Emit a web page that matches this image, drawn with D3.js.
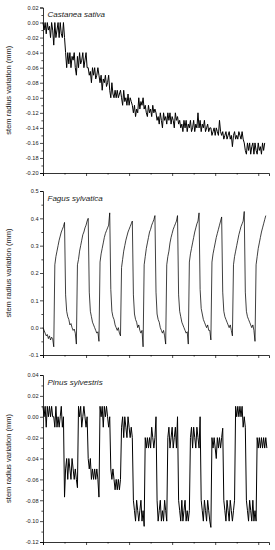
<!DOCTYPE html>
<html>
<head>
<meta charset="utf-8">
<script src="https://cdn.jsdelivr.net/npm/d3@7"></script>
<style>
  body { margin: 0; background: #fff; }
  svg { display: block; }
  text { font-family: "Liberation Sans", Arial, sans-serif; fill: #222; }
</style>
</head>
<body>
<script>
var width = 275;
var height = 550;

// sampling interval of the dendrometer records (x axis units)
var dt = 0.05;

// stem radius variation (mm), one value per sample
var castaneaValues = [
  0, -0.01, 0, -0.015, 0, -0.01, -0.005, -0.02, 0, -0.01,
  -0.03,
  0, -0.02, -0.01, 0, -0.02, 0, -0.015, -0.02, 0, -0.02,
  -0.04,
  -0.06, -0.04, -0.055, -0.04, -0.06, -0.045, -0.05, -0.04, -0.06, -0.07,
  -0.045, -0.06, -0.04, -0.055, -0.05, -0.04, -0.06, -0.05, -0.04, -0.06,
  -0.06, -0.07, -0.065, -0.08, -0.06, -0.07, -0.06, -0.075, -0.07, -0.06, -0.07,
  -0.08, -0.07, -0.09, -0.075, -0.08, -0.07, -0.085, -0.08, -0.07,
  -0.09, -0.1, -0.08, -0.095, -0.1, -0.09, -0.1, -0.09, -0.1, -0.095, -0.09,
  -0.1, -0.11, -0.09, -0.105, -0.1, -0.11, -0.095, -0.11, -0.1, -0.105, -0.11,
  -0.12, -0.11, -0.125, -0.115, -0.12,
  -0.1, -0.115, -0.105, -0.11, -0.1, -0.115,
  -0.11, -0.12, -0.125, -0.11, -0.12, -0.115, -0.125, -0.11, -0.12, -0.115,
  -0.12, -0.13, -0.125, -0.135, -0.12, -0.13, -0.14, -0.12, -0.13, -0.125, -0.135,
  -0.12, -0.13, -0.12, -0.135, -0.125, -0.13, -0.14, -0.12, -0.13, -0.125, -0.135,
  -0.13, -0.14, -0.135, -0.145, -0.13, -0.14, -0.13, -0.145, -0.135,
  -0.14, -0.13, -0.145, -0.14, -0.13, -0.145, -0.135, -0.14, -0.12,
  -0.14, -0.13, -0.145, -0.135, -0.14, -0.13, -0.145, -0.14, -0.135, -0.145, -0.14,
  -0.14, -0.15, -0.145, -0.14, -0.15, -0.14, -0.145, -0.15, -0.13, -0.145,
  -0.15, -0.145, -0.155, -0.15, -0.145, -0.155, -0.15, -0.145, -0.155, -0.15, -0.165,
  -0.15, -0.145, -0.155, -0.15, -0.155, -0.145, -0.15, -0.155, -0.145, -0.155,
  -0.16, -0.17, -0.175, -0.16, -0.17, -0.16, -0.175, -0.165, -0.16, -0.175,
  -0.16, -0.17, -0.175, -0.16, -0.17, -0.165, -0.175, -0.16, -0.17, -0.16
];

var fagusValues = [
  0, -0.01, -0.02, -0.03, -0.025, -0.04, -0.03, -0.045, -0.035, -0.04, -0.07,
  0.23, 0.26, 0.28, 0.30, 0.32, 0.335, 0.35, 0.36, 0.37, 0.385,
  0.12, 0.06, 0.04, 0.03, 0.01, 0.015, 0, -0.01, -0.005, -0.02, -0.06,
  0.23, 0.25, 0.28, 0.30, 0.32, 0.34, 0.35, 0.365, 0.375, 0.39, 0.40,
  0.13, 0.06, 0.04, 0.02, 0.01, 0, -0.01, -0.02, -0.015, -0.05,
  0.24, 0.27, 0.29, 0.31, 0.33, 0.345, 0.355, 0.365, 0.375, 0.42,
  0.14, 0.06, 0.04, 0.03, 0.01, 0, -0.01, 0, -0.02, -0.03,
  0.22, 0.25, 0.28, 0.30, 0.32, 0.335, 0.35, 0.36, 0.37, 0.38, 0.39,
  0.12, 0.05, 0.03, 0.02, 0, 0.01, -0.01, -0.02, -0.01, -0.07,
  0.23, 0.26, 0.29, 0.31, 0.33, 0.35, 0.36, 0.375, 0.385, 0.395, 0.41,
  0.13, 0.05, 0.03, 0.02, 0, -0.01, -0.02, -0.01, -0.03, -0.06,
  0.23, 0.26, 0.28, 0.31, 0.33, 0.345, 0.36, 0.37, 0.38, 0.39, 0.41,
  0.12, 0.06, 0.04, 0.02, 0.01, 0, -0.01, -0.02, -0.015, -0.06,
  0.24, 0.27, 0.29, 0.31, 0.33, 0.35, 0.365, 0.38, 0.39, 0.42,
  0.14, 0.07, 0.05, 0.03, 0.02, 0.01, 0, 0.01, -0.01, -0.01, -0.045,
  0.24, 0.27, 0.29, 0.31, 0.33, 0.345, 0.36, 0.375, 0.39, 0.405,
  0.13, 0.06, 0.04, 0.03, 0.02, 0.01, 0, 0.01, -0.01, -0.03,
  0.23, 0.26, 0.28, 0.30, 0.32, 0.34, 0.355, 0.37, 0.38, 0.39, 0.425,
  0.13, 0.06, 0.04, 0.03, 0.02, 0.01, 0, 0.01, -0.01, -0.05,
  0.23, 0.26, 0.29, 0.31, 0.33, 0.35, 0.365, 0.38, 0.395, 0.41
];

var pinusValues = [
  0.01, 0, 0.01, -0.01, 0.01, 0, 0.01, 0, 0.01, 0,
  0, -0.01, 0.01, -0.01, 0, -0.01, 0, 0.01, -0.01, 0,
  -0.077,
  -0.05, -0.04, -0.06, -0.04, -0.05, -0.06, -0.04, -0.05, -0.06, -0.05, -0.06,
  -0.068,
  0.01, 0, 0.01, -0.01, 0, 0.01, 0, -0.01, 0,
  -0.04, -0.05, -0.04, -0.06, -0.05, -0.06, -0.05, -0.06, -0.05, -0.06,
  -0.077,
  0.01, 0, 0.01, -0.01, 0.01, 0, 0.01, 0, -0.01, 0,
  -0.05, -0.06, -0.05, -0.06, -0.07, -0.06, -0.07, -0.06, -0.07, -0.06,
  -0.01, 0, -0.02, 0, -0.01, -0.02, 0, -0.01, -0.02, -0.01, -0.02,
  -0.08, -0.09, -0.1, -0.08, -0.09, -0.1, -0.09, -0.08, -0.1, -0.09, -0.105,
  -0.02, -0.03, -0.02, -0.03, -0.02, -0.03, -0.01, -0.02, -0.03, -0.02,
  0,
  -0.08, -0.1, -0.09, -0.08, -0.1, -0.09, -0.1, -0.08, -0.09, -0.1,
  -0.02, -0.01, -0.03, -0.02, -0.01, -0.03, -0.02, -0.01, -0.03,
  0,
  -0.08, -0.09, -0.1, -0.08, -0.1, -0.09, -0.08, -0.1, -0.09, -0.1, -0.09,
  -0.02, -0.01, -0.03, -0.01, -0.02, -0.03, -0.01, -0.02, -0.03,
  0,
  -0.08, -0.09, -0.1, -0.08, -0.09, -0.1, -0.08, -0.09, -0.1, -0.106,
  -0.02, -0.03, -0.02, -0.03, -0.04, -0.02, -0.03, -0.02, -0.03, -0.02,
  -0.011,
  -0.08, -0.09, -0.1, -0.08, -0.09, -0.1, -0.08, -0.09, -0.1, -0.09, -0.08,
  0.01, 0, 0.01, 0, 0.01, 0, 0.01, -0.01, 0, -0.01,
  -0.08, -0.09, -0.1, -0.08, -0.09, -0.1, -0.08, -0.1, -0.09, -0.1,
  -0.02, -0.03, -0.02, -0.03, -0.02, -0.03, -0.02, -0.03, -0.02, -0.03
];

// species names and axis ticks
var species = ["Castanea sativa", "Fagus sylvatica", "Pinus sylvestris"];
var yDomains = [[-0.20, 0.02], [-0.1, 0.5], [-0.12, 0.04]];
var yMajorTicks = [
  [0.02, 0.00, -0.02, -0.04, -0.06, -0.08, -0.10, -0.12, -0.14, -0.16, -0.18, -0.20],
  [0.5, 0.4, 0.3, 0.2, 0.1, 0.0, -0.1],
  [0.04, 0.02, 0.00, -0.02, -0.04, -0.06, -0.08, -0.10, -0.12]
];
var yMinorTicks = [
  [0.01, -0.01, -0.03, -0.05, -0.07, -0.09, -0.11, -0.13, -0.15, -0.17, -0.19],
  [0.45, 0.35, 0.25, 0.15, 0.05, -0.05],
  [0.03, 0.01, -0.01, -0.03, -0.05, -0.07, -0.09, -0.11]
];
var yFormats = [".2f", ".1f", ".2f"];
var xDomain = [0, 10.5];
var xMajorTicks = [0, 2, 4, 6, 8, 10];
var xMinorTicks = [1, 3, 5, 7, 9];
var yLabel = "stem radius variation (mm)";

var seriesList = [castaneaValues, fagusValues, pinusValues];
var strokeWidths = [1, 0.75, 1];

// vertical extent of each panel's plot area
var panelTops = [7.5, 191, 375];
var panelBottoms = [173, 355, 542];
var left = 43, right = 269;

var svg = d3.select("body").append("svg")
    .attr("width", width)
    .attr("height", height);

var x = d3.scaleLinear().domain(xDomain).range([left, right]);

seriesList.forEach(function(values, p) {
    var y = d3.scaleLinear()
        .domain(yDomains[p])
        .range([panelBottoms[p], panelTops[p]]);

    var g = svg.append("g").attr("class", "panel");

    var line = d3.line()
        .x(function(d, i) { return x(i * dt); })
        .y(function(d) { return y(d); });

    g.append("path")
        .datum(values)
        .attr("fill", "none")
        .attr("stroke", "#000")
        .attr("stroke-width", strokeWidths[p])
        .attr("stroke-linejoin", "miter")
        .attr("d", line);

    // y axis with minor ticks
    var fmt = d3.format(yFormats[p]);
    var yAxis = g.append("g")
        .attr("transform", "translate(" + left + ",0)")
        .call(d3.axisLeft(y)
            .tickValues(yMajorTicks[p])
            .tickFormat(function(d) { return fmt(d).replace("\u2212", "-"); })
            .tickSize(3)
            .tickPadding(1.5));
    g.append("g")
        .attr("transform", "translate(" + left + ",0)")
        .call(d3.axisLeft(y).tickValues(yMinorTicks[p]).tickFormat("").tickSize(1.6))
        .select(".domain").remove();

    // x axis, no labels
    g.append("g")
        .attr("transform", "translate(0," + panelBottoms[p] + ")")
        .call(d3.axisBottom(x).tickValues(xMajorTicks).tickFormat("").tickSize(3));
    g.append("g")
        .attr("transform", "translate(0," + panelBottoms[p] + ")")
        .call(d3.axisBottom(x).tickValues(xMinorTicks).tickFormat("").tickSize(1.6))
        .select(".domain").remove();

    g.selectAll(".domain").attr("stroke", "#000").attr("stroke-width", 0.8);
    g.selectAll(".tick line").attr("stroke", "#000").attr("stroke-width", 0.7);
    yAxis.selectAll("text")
        .style("font-size", "5.6px")
        .attr("fill", "#222");

    // species name
    g.append("text")
        .attr("x", 47.5)
        .attr("y", panelTops[p] + 9.5)
        .style("font-size", "8px")
        .style("font-style", "italic")
        .text(species[p]);

    // y axis title
    var cy = (panelTops[p] + panelBottoms[p]) / 2;
    g.append("text")
        .attr("transform", "translate(11," + cy + ") rotate(-90)")
        .attr("text-anchor", "middle")
        .style("font-size", "7.5px")
        .text(yLabel);
});
</script>
</body>
</html>
